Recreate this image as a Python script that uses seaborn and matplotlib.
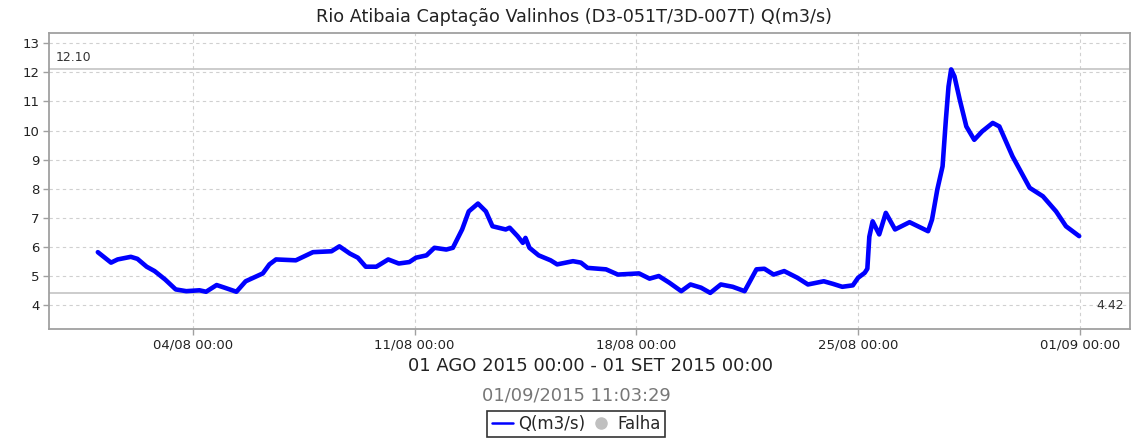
import matplotlib
matplotlib.use("Agg")
import matplotlib.pyplot as plt
import matplotlib.dates as mdates
from matplotlib.lines import Line2D
import pandas as pd
import seaborn as sns

title = "Rio Atibaia Captação Valinhos (D3-051T/3D-007T) Q(m3/s)"
period_label = "01 AGO 2015 00:00 - 01 SET 2015 00:00"
stamp_label = "01/09/2015 11:03:29"
series_name = "Q(m3/s)"
fail_name = "Falha"

times = [
    "2015-08-01 00:00", "2015-08-01 10:00", "2015-08-01 15:00", "2015-08-02 01:00",
    "2015-08-02 06:00", "2015-08-02 13:00", "2015-08-02 19:00", "2015-08-03 03:00",
    "2015-08-03 11:00", "2015-08-03 19:00", "2015-08-04 05:00", "2015-08-04 10:00",
    "2015-08-04 18:00", "2015-08-05 00:00", "2015-08-05 09:00", "2015-08-05 16:00",
    "2015-08-06 05:00", "2015-08-06 10:00", "2015-08-06 15:00", "2015-08-07 06:00",
    "2015-08-07 19:00", "2015-08-08 09:00", "2015-08-08 15:00", "2015-08-08 23:00",
    "2015-08-09 05:00", "2015-08-09 11:00", "2015-08-09 19:00", "2015-08-10 04:00",
    "2015-08-10 12:00", "2015-08-10 20:00", "2015-08-11 01:00", "2015-08-11 09:00",
    "2015-08-11 15:00", "2015-08-12 00:00", "2015-08-12 05:00", "2015-08-12 12:00",
    "2015-08-12 17:00", "2015-08-13 00:00", "2015-08-13 06:00", "2015-08-13 11:00",
    "2015-08-13 21:00", "2015-08-14 00:00", "2015-08-14 06:00", "2015-08-14 10:00",
    "2015-08-14 12:00", "2015-08-14 15:00", "2015-08-14 22:00", "2015-08-15 07:00",
    "2015-08-15 12:00", "2015-08-16 00:00", "2015-08-16 06:00", "2015-08-16 11:00",
    "2015-08-17 01:00", "2015-08-17 10:00", "2015-08-18 02:00", "2015-08-18 10:00",
    "2015-08-18 17:00", "2015-08-19 01:00", "2015-08-19 10:00", "2015-08-19 17:00",
    "2015-08-20 01:00", "2015-08-20 08:00", "2015-08-20 16:00", "2015-08-21 01:00",
    "2015-08-21 10:00", "2015-08-21 19:00", "2015-08-22 01:00", "2015-08-22 08:00",
    "2015-08-22 16:00", "2015-08-23 02:00", "2015-08-23 10:00", "2015-08-23 22:00",
    "2015-08-24 05:00", "2015-08-24 12:00", "2015-08-24 20:00", "2015-08-25 00:00",
    "2015-08-25 05:00", "2015-08-25 07:00", "2015-08-25 08:30", "2015-08-25 11:00",
    "2015-08-25 16:00", "2015-08-25 21:00", "2015-08-26 04:00", "2015-08-26 15:00",
    "2015-08-27 05:00", "2015-08-27 08:00", "2015-08-27 12:00", "2015-08-27 16:00",
    "2015-08-27 18:30", "2015-08-27 20:30", "2015-08-27 22:30", "2015-08-28 01:00",
    "2015-08-28 05:00", "2015-08-28 10:00", "2015-08-28 16:00", "2015-08-28 22:00",
    "2015-08-29 06:00", "2015-08-29 11:00", "2015-08-29 21:00", "2015-08-30 10:00",
    "2015-08-30 20:00", "2015-08-31 06:00", "2015-08-31 13:30", "2015-08-31 23:30",
]
flow = [
    5.82, 5.46, 5.57, 5.66,
    5.59, 5.32, 5.17, 4.88,
    4.54, 4.48, 4.51, 4.46,
    4.69, 4.60, 4.46, 4.82,
    5.09, 5.40, 5.57, 5.54,
    5.82, 5.85, 6.02, 5.77,
    5.63, 5.32, 5.32, 5.57,
    5.43, 5.48, 5.63, 5.71,
    5.97, 5.91, 5.97, 6.60,
    7.22, 7.49, 7.22, 6.71,
    6.60, 6.66, 6.37, 6.14,
    6.31, 5.97, 5.71, 5.54,
    5.40, 5.51, 5.46, 5.28,
    5.23, 5.05, 5.09, 4.91,
    5.00, 4.77, 4.48, 4.71,
    4.60, 4.42, 4.71, 4.63,
    4.48, 5.23, 5.25, 5.05,
    5.17, 4.94, 4.71, 4.82,
    4.73, 4.63, 4.68, 4.94,
    5.11, 5.25, 6.35, 6.88,
    6.43, 7.17, 6.60, 6.85,
    6.54, 6.94, 7.97, 8.77,
    10.37, 11.51, 12.10, 11.86,
    11.06, 10.14, 9.68, 9.97,
    10.26, 10.14, 9.11, 8.03,
    7.74, 7.22, 6.71, 6.37,
]
y_ticks = [4, 5, 6, 7, 8, 9, 10, 11, 12, 13]
x_tick_dates = ["2015-08-04", "2015-08-11", "2015-08-18", "2015-08-25", "2015-09-01"]
x_tick_labels = ["04/08 00:00", "11/08 00:00", "18/08 00:00", "25/08 00:00", "01/09 00:00"]

df = pd.DataFrame({"time": pd.to_datetime(times), "q": flow})
qmax = df["q"].max()
qmin = df["q"].min()

sns.set_style("white")
plt.rcParams["font.family"] = ["DejaVu Sans"]

fig = plt.figure(figsize=(11.43, 4.41), dpi=100)
ax = fig.add_axes([49 / 1143, 1 - 329 / 441, (1130 - 49) / 1143, (329 - 33) / 441])

sns.lineplot(data=df, x="time", y="q", ax=ax, color="#0000ff", linewidth=3.3)

ax.axhline(qmax, color="#c4c4c4", linewidth=1.2, zorder=1)
ax.axhline(qmin, color="#c4c4c4", linewidth=1.2, zorder=1)
ax.text(0.006, qmax + 0.2, f"{qmax:.2f}", transform=ax.get_yaxis_transform(),
        ha="left", va="bottom", fontsize=9, color="#333333")
ax.text(0.994, qmin - 0.2, f"{qmin:.2f}", transform=ax.get_yaxis_transform(),
        ha="right", va="top", fontsize=9, color="#333333")

ax.set_xlim(pd.Timestamp("2015-07-30 11:00"), pd.Timestamp("2015-09-02 14:00"))
ax.set_ylim(3.18, 13.35)
ax.set_yticks(y_ticks)
ax.set_yticklabels([str(v) for v in y_ticks])
ax.set_xticks(pd.to_datetime(x_tick_dates))
ax.set_xticklabels(x_tick_labels)
ax.set_xlabel("")
ax.set_ylabel("")

ax.grid(True, color="#d0d0d0", linestyle=(0, (3, 3)), linewidth=0.8)
for s in ax.spines.values():
    s.set_color("#a0a0a0")
    s.set_linewidth(1.3)
ax.tick_params(axis="both", which="major", length=4, width=1, color="#a0a0a0",
               labelsize=9.5, labelcolor="#222222", bottom=True, left=True, pad=3)

fig.text(0.5025, 1 - 17 / 441, title, ha="center", va="center", fontsize=12.7, color="#222222")
fig.text(0.517, 1 - 366 / 441, period_label, ha="center", va="center", fontsize=13, color="#222222")
fig.text(0.504, 1 - 396 / 441, stamp_label, ha="center", va="center", fontsize=12.9, color="#777777")

handles = [
    Line2D([0], [0], color="#0000ff", linewidth=1.8),
    Line2D([0], [0], color="#c0c0c0", marker="o", linestyle="none", markersize=8),
]
leg = fig.legend(handles, [series_name, fail_name], loc="center", ncol=2,
                 bbox_to_anchor=(0.504, 1 - 424 / 441), frameon=True, fontsize=12,
                 handlelength=1.3, handletextpad=0.3, columnspacing=0.3,
                 borderpad=0.25, fancybox=False, borderaxespad=0)
leg.get_frame().set_edgecolor("#000000")
leg.get_frame().set_linewidth(1.2)

fig.savefig("out.png", dpi=100)
